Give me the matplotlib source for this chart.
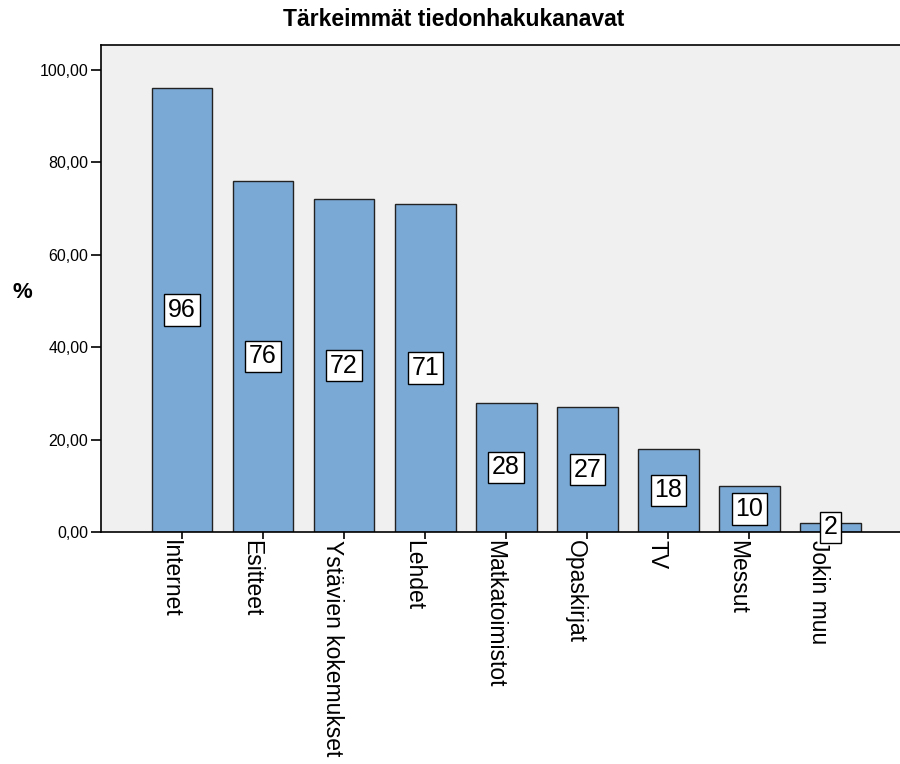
import matplotlib
matplotlib.use('Agg')
import matplotlib.pyplot as plt
from matplotlib.ticker import FuncFormatter

plt.rcParams['font.family'] = ['Liberation Sans', 'DejaVu Sans']

categories = ['Internet', 'Esitteet', 'Ystävien kokemukset', 'Lehdet',
              'Matkatoimistot', 'Opaskirjat', 'TV', 'Messut', 'Jokin muu']
values = [96, 76, 72, 71, 28, 27, 18, 10, 2]
yticks = [0, 20, 40, 60, 80, 100]

fig = plt.figure(figsize=(9, 7.64), dpi=100)
ax = fig.add_axes([0.1122, 0.3037, 0.8878, 0.6374])
ax.set_facecolor('#f0f0f0')

x = list(range(len(categories)))
ax.bar(x, values, width=0.75, color='#7ba9d6', edgecolor='#222222', linewidth=1, zorder=2)

# value labels in boxes, at half bar height
for xi, v in zip(x, values):
    ax.text(xi, v / 2, str(v), ha='center', va='center', fontsize=18, zorder=3,
            bbox=dict(boxstyle='square,pad=0.15', facecolor='white', edgecolor='black', linewidth=1))

ax.set_xlim(-1.0, 8.86)
ax.set_ylim(0, 105.4)
ax.set_yticks(yticks)
ax.yaxis.set_major_formatter(FuncFormatter(lambda v, p: ('%.2f' % v).replace('.', ',')))
ax.tick_params(axis='y', direction='out', length=7, width=1.2, labelsize=11.5, pad=2)

ax.set_xticks(x)
ax.set_xticklabels(categories, rotation=270, ha='right', va='top', fontsize=16.5)
ax.tick_params(axis='x', direction='out', length=5, width=1.2, pad=1)

for side in ['top', 'left', 'bottom']:
    ax.spines[side].set_linewidth(1.2)
ax.spines['right'].set_visible(False)

fig.text(0.0244, 0.617, '%', ha='center', va='center', fontsize=16, fontweight='bold')
fig.text(0.504, 0.974, 'Tärkeimmät tiedonhakukanavat', ha='center', va='center',
         fontsize=16.5, fontweight='bold')

fig.savefig('out.png', dpi=100)
